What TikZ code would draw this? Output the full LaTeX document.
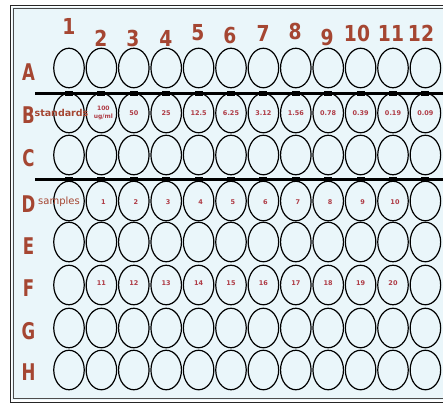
\documentclass[tikz,border=0pt]{standalone}
\usepackage{fontspec}
\setmainfont{DejaVu Sans}
\usetikzlibrary{shapes.geometric,calc}
\definecolor{lab}{RGB}{165,70,50}
\definecolor{wtx}{RGB}{175,60,70}
\definecolor{bg}{RGB}{234,246,250}
\begin{document}
\begin{tikzpicture}[x=1pt,y=-1pt,
  well/.style={draw=black,line width=1.2pt,ellipse,minimum width=30.5pt,minimum height=39.5pt,inner sep=0pt},
  collab/.style={font=\fontsize{22}{22}\selectfont\bfseries,text=lab,inner sep=0pt,xscale=0.85},
  rowlab/.style={font=\fontsize{23}{23}\selectfont\bfseries,text=lab,inner sep=0pt,xscale=0.72},
  wtxt/.style={font=\fontsize{6.5}{7}\selectfont\bfseries,text=wtx,inner sep=0pt,align=center},
  sidetxt/.style={font=\fontsize{9.5}{10}\selectfont\bfseries,text=lab,inner sep=0pt},
  sepline/.style={line width=3pt,black}]
\useasboundingbox (0,0) rectangle (443,405);
\clip (0,0) rectangle (443,405);
\fill[white] (0,0) rectangle (443,405);
\fill[bg] (12,7) rectangle (460,400);
\draw[line width=0.9pt,black!85] (10,5) rectangle (470,402);
\draw[line width=0.7pt,black!70] (13.5,8.5) rectangle (470,398.5);
% wells
\foreach \r/\yy in {A/68,B/113,C/155,D/201,E/242,F/285,G/328,H/370}{
  \foreach \c in {1,...,12}{
    \pgfmathsetmacro{\xx}{69+(\c-1)*32.4}
    \node[well] (w-\r-\c) at (\xx,\yy) {};
  }
}
% separator lines
\draw[sepline] (35,93) -- (443,93);
\draw[sepline] (35,179) -- (443,179);
\foreach \c in {1,...,12}{
  \pgfmathsetmacro{\xx}{69+(\c-1)*32.4}
  \fill (\xx-4,90.5) rectangle (\xx+4,95.5);
  \fill (\xx-4,176.5) rectangle (\xx+4,181.5);
}
% column labels
\foreach \c/\xx/\yy in {1/69/26,2/101/38,3/133/38,4/166/38,5/198/33,6/230/35,7/263/33,8/295/31,9/327/37,10/357/33,11/391/33,12/421/33}{
  \node[collab] (col\c) at (\xx,\yy) {\c};
}
% row labels
\foreach \r/\yy in {A/72,B/115,C/158,D/204,E/246,F/288,G/331,H/372}{
  \node[rowlab] (row\r) at (28.5,\yy) {\r};
}
% standards
\node[sidetxt] (std) at (61.5,113) {standards};
\node[wtxt,font=\fontsize{6}{7.5}\selectfont\bfseries] (tB2) at ($(w-B-2)+(2,0)$) {100\\ug/ml};
\foreach \c/\t in {3/50,4/25,5/12.5,6/6.25,7/3.12,8/1.56,9/0.78,10/0.39,11/0.19,12/0.09}{
  \node[wtxt] (tB\c) at (w-B-\c) {\t};
}
% samples
\node[sidetxt,font=\fontsize{10}{10}\selectfont] (smp) at (59,202) {samples};
\foreach \c/\t in {2/1,3/2,4/3,5/4,6/5,7/6,8/7,9/8,10/9,11/10}{
  \node[wtxt] (tD\c) at ($(w-D-\c)+(2,1)$) {\t};
}
\foreach \c/\t in {2/11,3/12,4/13,5/14,6/15,7/16,8/17,9/18,10/19,11/20}{
  \node[wtxt] (tF\c) at ($(w-F-\c)+(0,-2)$) {\t};
}
\end{tikzpicture}
\end{document}
